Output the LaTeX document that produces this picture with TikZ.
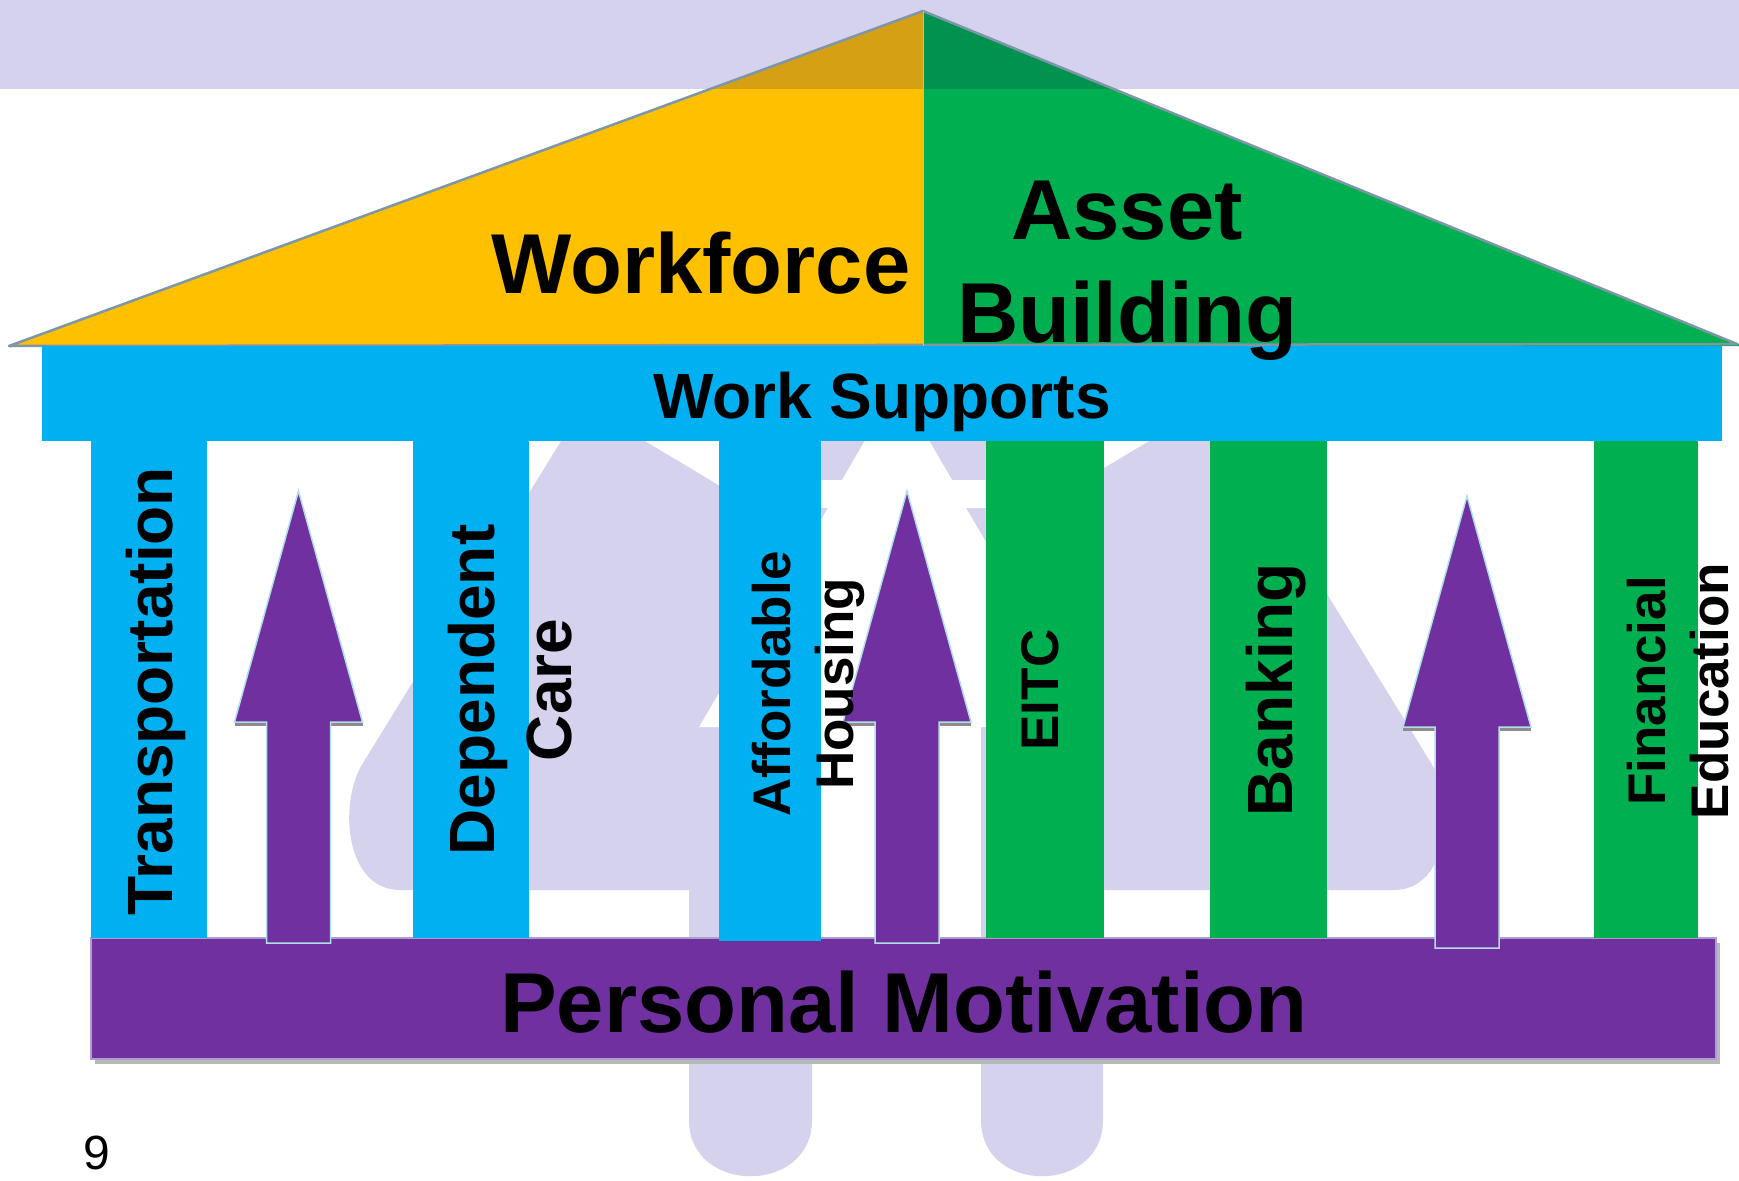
\documentclass[tikz,border=0pt]{standalone}
\usepackage{fontspec}
\setmainfont{Liberation Sans}
\definecolor{lav}{RGB}{213,210,238}
\definecolor{wsblue}{RGB}{0,176,240}
\definecolor{wsgreen}{RGB}{0,176,80}
\definecolor{wsorange}{RGB}{255,192,0}
\definecolor{wspurple}{RGB}{112,48,160}
\definecolor{dkorange}{RGB}{213,160,20}
\definecolor{dkgreen}{RGB}{0,146,78}
\definecolor{roofline}{RGB}{125,150,168}
\definecolor{arrowline}{RGB}{176,222,230}
\definecolor{barline}{RGB}{170,160,205}
\begin{document}
\begin{tikzpicture}[x=1pt,y=-1pt,
  bigtext/.style={inner sep=0pt, font=\bfseries\fontsize{85}{103}\selectfont},
  coltext/.style={rotate=90, anchor=north, inner sep=0pt, align=center,
     font=\bfseries\fontsize{64}{77}\selectfont},
  smallcoltext/.style={rotate=90, anchor=north, inner sep=0pt, align=center,
     font=\bfseries\fontsize{53}{63}\selectfont},
  uparrow/.pic={
    \fill[black!45] (-64,231) rectangle (-32,235);
    \fill[black!45] (32,231) rectangle (64,235);
    \draw[arrowline, fill=wspurple, line width=1.5pt, line join=miter]
      (0,0) -- (64,231) -- (32,231) -- (32,452) -- (-32,452) -- (-32,231) -- (-64,231) -- cycle;
  }]
\useasboundingbox (0,0) rectangle (1739,1180);
\fill[white] (0,0) rectangle (1739,1180);

% background watermark
\fill[lav] (574,420) -- (363,763) .. controls (338,803) and (345,890) .. (400,890)
  -- (689,890) -- (689,1120) .. controls (689,1195) and (812,1195) .. (812,1120)
  -- (812,727) -- (981,727) -- (981,1120) .. controls (981,1195) and (1103,1195) .. (1103,1120)
  -- (1103,890) -- (1394,890) .. controls (1449,890) and (1456,803) .. (1431,763)
  -- (1220,420) -- cycle;
\fill[white] (600,414) -- (757,508) -- (1037,508) -- (1194,414) -- cycle;
\fill[lav] (745,414) rectangle (1050,480);
\fill[white] (897,385) -- (952,480) -- (842,480) -- cycle;
\fill[white] (828,508) -- (966,508) -- (1095,727) -- (699,727) -- cycle;

% header band and roof
\fill[lav] (0,0) rectangle (1739,89);
\fill[wsorange] (9,346) -- (923,11) -- (923,346) -- cycle;
\fill[wsgreen] (923,11) -- (1739,344) -- (1739,346) -- (923,346) -- cycle;
\begin{scope}
  \clip (0,0) rectangle (1739,89);
  \fill[dkorange] (9,346) -- (923,11) -- (923,346) -- cycle;
  \fill[dkgreen] (923,11) -- (1739,344) -- (1739,346) -- (923,346) -- cycle;
\end{scope}
\draw[roofline, line width=2.5pt, line join=round] (9,346) -- (923,11) -- (1737,344) -- cycle;
\draw[roofline!60, line width=1pt] (923,11) -- (923,346);

% Work Supports bar
\fill[wsblue] (42,346) rectangle (1722,441);

% Personal Motivation bar
\fill[black!28] (95,943) rectangle (1720,1064);
\fill[wspurple] (91,938) rectangle (1716,1059);
\draw[barline, line width=1.5pt] (91,938) rectangle (1716,1059);

% columns
\fill[wsblue] (91,441) rectangle (207,938);
\fill[wsblue] (413,441) rectangle (529,938);
\fill[wsblue] (719,428) rectangle (821,941);
\fill[wsgreen] (986,441) rectangle (1104,938);
\fill[wsgreen] (1210,441) rectangle (1327,938);
\fill[wsgreen] (1594,441) rectangle (1698,938);

% arrows
\pic (arrowA) at (298.5,491) {uparrow};
\pic (arrowB) at (907,491) {uparrow};
\pic (arrowC) at (1467,496) {uparrow};

% texts
\node[bigtext, anchor=base] (workforce) at (701,293) {Workforce};
\node[bigtext, anchor=north, align=center] (asset) at (1127,181) {Asset\\Building};
\node[inner sep=0pt, anchor=base, font=\bfseries\fontsize{64}{77}\selectfont] (supports) at (882,418) {Work Supports};
\node[bigtext, anchor=base] (motivation) at (904,1032) {Personal Motivation};

\node[coltext] (transport) at (126,691) {Transportation};
\node[coltext] (dependent) at (448,690) {Dependent\\Care};
\node[smallcoltext] (housing) at (752,684) {Affordable\\Housing};
\node[smallcoltext] (eitc) at (1021,690) {EITC};
\node[coltext] (banking) at (1246,690) {Banking};
\node[smallcoltext] (financial) at (1627,691) {Financial\\Education};

\node[inner sep=0pt, anchor=base west, font=\fontsize{48}{58}\selectfont] (pagenum) at (83,1169) {9};
\end{tikzpicture}
\end{document}
